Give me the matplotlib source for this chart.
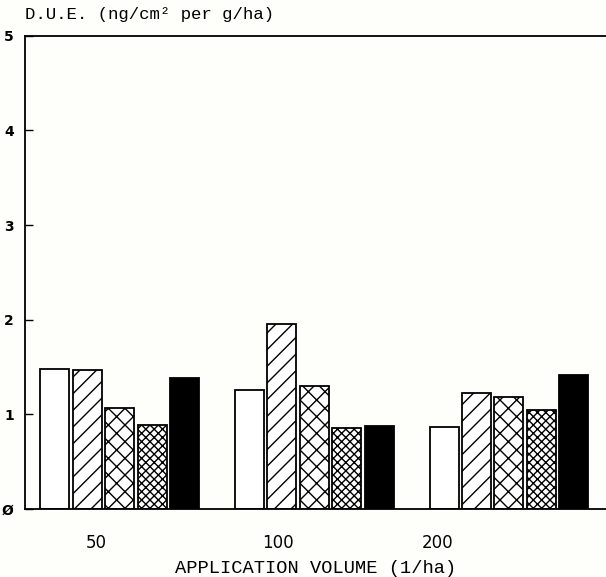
import matplotlib
matplotlib.use("Agg")
import matplotlib.pyplot as plt
import numpy as np

groups = ["50", "100", "200"]
series_values = [
    [1.48, 1.26, 0.87],   # open
    [1.47, 1.95, 1.23],   # diagonal hatch
    [1.07, 1.30, 1.18],   # cross hatch
    [0.89, 0.86, 1.05],   # dense cross hatch
    [1.38, 0.88, 1.42],   # solid
]
y_ticks = [0, 1, 2, 3, 4, 5]
y_tick_labels = ["Ø", "1", "2", "3", "4", "5"]

hatches = ["", "//", "xx", "xxxx", ""]
faces = ["white", "white", "white", "white", "black"]

plt.rcParams["hatch.linewidth"] = 1.0
bg = "#fefefa"
fig = plt.figure(figsize=(6.06, 5.77), dpi=100, facecolor=bg)
ax = fig.add_axes([0.041, 0.118, 0.959, 0.82])
ax.set_facecolor(bg)

x = np.arange(len(groups))
w = 0.149
step = 0.1666
for i, vals in enumerate(series_values):
    ax.bar(x + (i - 2) * step, vals, width=w, color=faces[i], edgecolor="black",
           hatch=hatches[i], linewidth=1.3)

ax.set_ylim(0, 5)
ax.set_xlim(-0.488, 2.499)
ax.set_yticks(y_ticks)
ax.set_yticklabels(y_tick_labels, fontsize=10, fontweight="bold", family="DejaVu Sans")
ax.tick_params(axis="y", direction="in", length=6, width=1, pad=8)
label_offsets = [-0.12, -0.185, -0.365]
ax.set_xticks(x + np.array(label_offsets))
ax.set_xticklabels(groups, fontsize=12, family="DejaVu Sans")
ax.tick_params(axis="x", length=0, pad=18)
ax.spines["right"].set_visible(False)
for s in ["left", "bottom", "top"]:
    ax.spines[s].set_linewidth(1.3)

ax.set_xlabel("APPLICATION VOLUME (1/ha)", fontsize=13.5, family="Liberation Mono", labelpad=6)
fig.text(0.041, 0.975, "D.U.E. (ng/cm² per g/ha)", fontsize=12.5, family="Liberation Mono",
         ha="left", va="center")

fig.savefig("out.png", dpi=100, facecolor=bg)
